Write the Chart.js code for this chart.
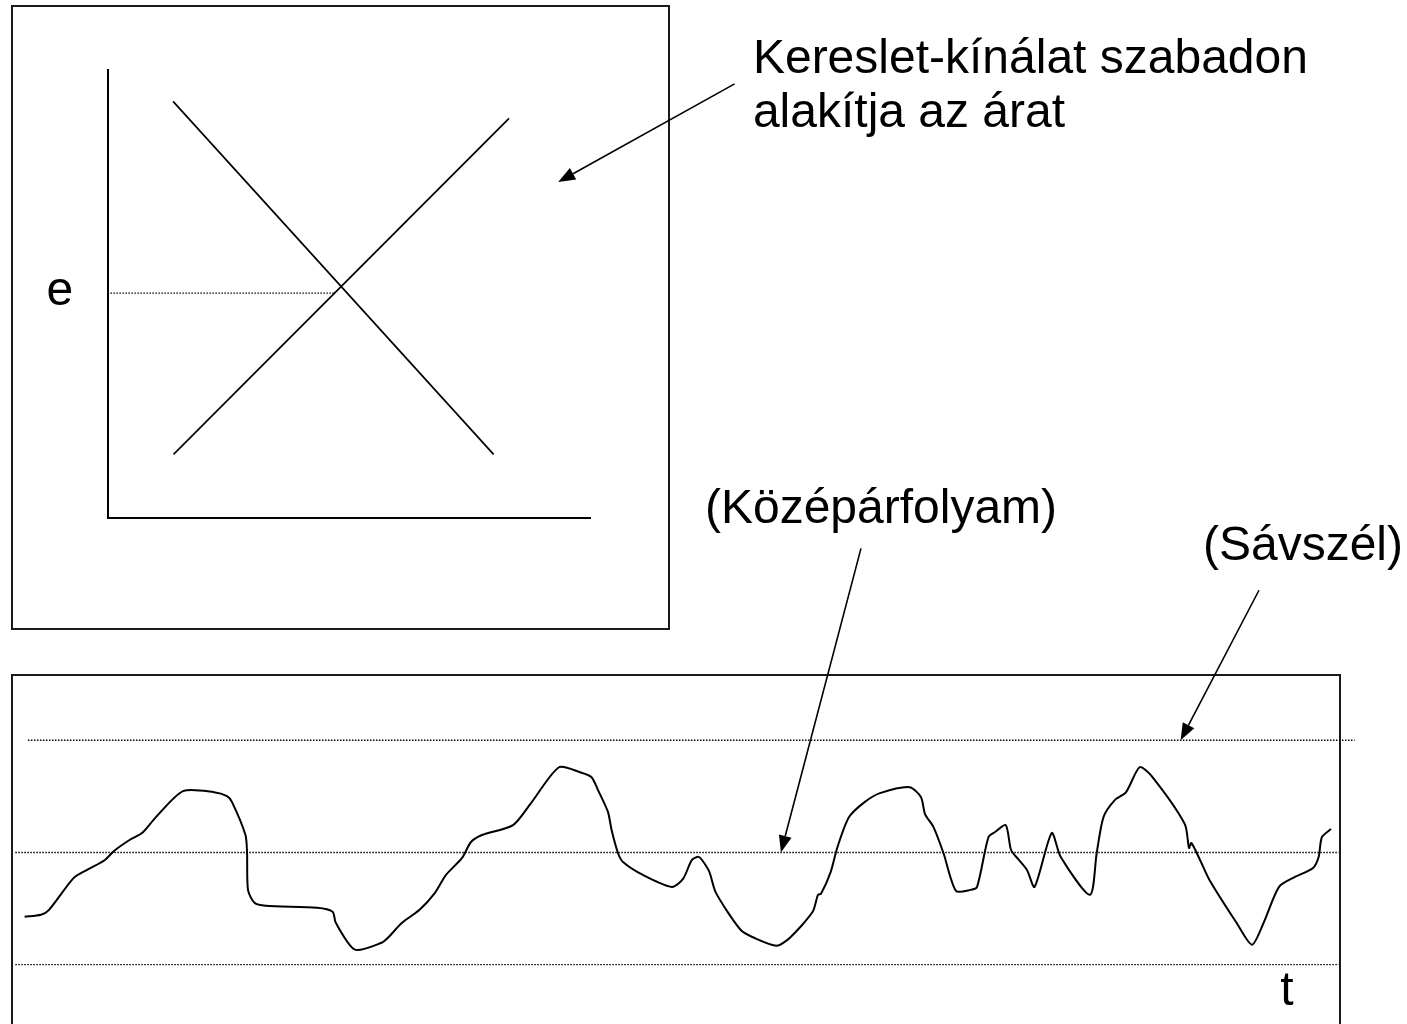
<!DOCTYPE html>
<html>
<head>
<meta charset="utf-8">
<script src="https://cdn.jsdelivr.net/npm/chart.js@4.4.1/dist/chart.umd.min.js"></script>
<style>
  html, body { margin: 0; padding: 0; background: #fff; }
  body { width: 1407px; height: 1024px; position: relative; overflow: hidden; }
  canvas { position: absolute; left: 0; }
  #marketChart { top: 0; }
  #rateChart { top: 460px; }
  .frame { position: absolute; border: 2px solid #1a1a1a; box-sizing: border-box; }
</style>
</head>
<body>
<div class="frame" style="left:11px;top:5px;width:659px;height:625px"></div>
<div class="frame" style="left:11px;top:674px;width:1330px;height:400px"></div>
<canvas id="marketChart" width="1407" height="640"></canvas>
<canvas id="rateChart" width="1407" height="564"></canvas>
<script>
// --- top panel: supply / demand (quantity 0..10, price 0..10)
const demandQ = [1.35, 8.0];
const demandP = [9.3, 1.42];
const supplyQ = [1.36, 8.32];
const supplyP = [1.42, 8.92];
const eqQ = [0.05, 4.7];
const eqPrice = 5.02;

// --- bottom panel: exchange rate deviation from central parity (%)
const days = [0.95, 2.18, 2.79, 4.65, 5.65, 7.0, 7.68, 8.85, 9.79, 10.84, 12.88, 15.21, 16.19, 16.57,
  17.58, 17.7, 17.77, 18.26, 19.1, 22.97, 24.14, 24.38, 25.83, 27.84, 28.31, 29.37, 30.69, 31.85,
  32.68, 33.89, 34.56, 35.39, 37.73, 39.08, 41.19, 42.77, 43.64, 44.13, 44.88, 45.15, 45.63, 46.01,
  47.51, 49.7, 50.53, 51.2, 51.73, 52.48, 53.01, 54.86, 55.87, 57.58, 58.58, 60.29, 60.69, 60.92,
  61.65, 62.16, 63.03, 64.2, 65.36, 67.59, 68.45, 68.75, 69.39, 70.14, 71.08, 72.18, 72.67, 73.53,
  74.02, 74.83, 75.23, 75.75, 76.43, 77.0, 78.29, 78.97, 81.17, 81.68, 82.19, 83.04, 83.89, 84.91,
  85.76, 88.31, 88.63, 88.81, 89.46, 90.17, 92.21, 93.37, 94.25, 95.41, 96.61, 97.97, 98.39, 98.64, 99.32];
const deviation = [-1.29, -1.25, -1.15, -0.51, -0.35, -0.15, 0.03, 0.25, 0.39, 0.71, 1.23, 1.21, 1.13, 1.01,
  0.35, -0.01, -0.75, -1.01, -1.07, -1.11, -1.19, -1.41, -1.95, -1.81, -1.71, -1.41, -1.15, -0.81,
  -0.45, -0.11, 0.21, 0.35, 0.55, 0.99, 1.71, 1.61, 1.51, 1.25, 0.81, 0.45, -0.01, -0.19,
  -0.45, -0.69, -0.53, -0.15, -0.09, -0.37, -0.81, -1.55, -1.71, -1.87, -1.71, -1.19, -0.85, -0.83,
  -0.39, 0.11, 0.71, 1.01, 1.19, 1.31, 1.11, 0.77, 0.51, -0.01, -0.77, -0.75, -0.69, 0.31,
  0.41, 0.55, 0.05, -0.13, -0.35, -0.69, 0.39, -0.09, -0.85, -0.01, 0.71, 1.05, 1.21, 1.71,
  1.55, 0.57, 0.09, 0.19, -0.15, -0.55, -1.41, -1.85, -1.41, -0.69, -0.49, -0.31, -0.09, 0.31, 0.47];
const centralParity = 0;
const bandEdge = 2.25;
const upperBandDays = [1.2, 101.1];
const otherBandDays = [0.25, 99.9];

const FONT = '48px "Liberation Sans", Arial, sans-serif';

// draws free text and arrows given in data units
const notesPlugin = {
    id: 'notes',
    afterDatasetsDraw(chart, args, opts) {
        const { ctx, scales: { x, y } } = chart;
        ctx.save();
        ctx.fillStyle = '#000';
        ctx.strokeStyle = '#000';
        ctx.font = FONT;
        ctx.textBaseline = 'alphabetic';
        (opts.labels || []).forEach(l => {
            ctx.textAlign = l.align || 'left';
            ctx.fillText(l.text, x.getPixelForValue(l.x), y.getPixelForValue(l.y));
        });
        (opts.arrows || []).forEach(a => {
            const x0 = x.getPixelForValue(a.from[0]), y0 = y.getPixelForValue(a.from[1]);
            const x1 = x.getPixelForValue(a.to[0]), y1 = y.getPixelForValue(a.to[1]);
            const ang = Math.atan2(y1 - y0, x1 - x0);
            const len = 17, half = 6.5;
            const bx = x1 - len * Math.cos(ang), by = y1 - len * Math.sin(ang);
            ctx.lineWidth = 1.6;
            ctx.beginPath();
            ctx.moveTo(x0, y0);
            ctx.lineTo(bx, by);
            ctx.stroke();
            ctx.beginPath();
            ctx.moveTo(x1, y1);
            ctx.lineTo(bx + half * Math.sin(ang), by - half * Math.cos(ang));
            ctx.lineTo(bx - half * Math.sin(ang), by + half * Math.cos(ang));
            ctx.closePath();
            ctx.fill();
        });
        ctx.restore();
    }
};

function pairs(xs, ys) {
    return xs.map((v, i) => ({ x: v, y: ys[i] }));
}

function hiddenAxis(min, max, withBorder) {
    return {
        type: 'linear',
        min: min,
        max: max,
        display: true,
        grid: { display: false, drawTicks: false },
        ticks: { display: false },
        border: { display: withBorder, color: '#000', width: 2 }
    };
}

const lineStyle = { borderColor: '#000', borderWidth: 1.7, pointRadius: 0, fill: false, clip: false };
const dotStyle = { borderColor: '#000', borderWidth: 1.4, borderDash: [1.5, 1.5], pointRadius: 0, fill: false, clip: false };

new Chart(document.getElementById('marketChart'), {
    type: 'line',
    data: {
        datasets: [
            { ...lineStyle, label: 'Kereslet', data: pairs(demandQ, demandP) },
            { ...lineStyle, label: 'Kínálat', data: pairs(supplyQ, supplyP) },
            { ...dotStyle, label: 'e', data: pairs(eqQ, eqQ.map(() => eqPrice)) }
        ]
    },
    options: {
        responsive: false,
        animation: false,
        events: [],
        layout: { padding: { left: 108, top: 70, right: 817, bottom: 122 } },
        scales: { x: hiddenAxis(0, 10, true), y: hiddenAxis(0, 10, true) },
        plugins: {
            legend: { display: false },
            tooltip: { enabled: false },
            notes: {
                labels: [
                    { text: 'e', x: -1.0, y: 4.75, align: 'center' },
                    { text: 'Kereslet-kínálat szabadon', x: 13.38, y: 9.93 },
                    { text: 'alakítja az árat', x: 13.38, y: 8.73 }
                ],
                arrows: [{ from: [13.0, 9.69], to: [9.34, 7.5] }]
            }
        }
    },
    plugins: [notesPlugin]
});

new Chart(document.getElementById('rateChart'), {
    type: 'line',
    data: {
        datasets: [
            { ...lineStyle, borderWidth: 2, label: 'Árfolyam', data: pairs(days, deviation), tension: 0.25 },
            { ...dotStyle, label: 'Felső sávszél', data: pairs(upperBandDays, [bandEdge, bandEdge]) },
            { ...dotStyle, label: 'Középárfolyam', data: pairs(otherBandDays, [centralParity, centralParity]) },
            { ...dotStyle, label: 'Alsó sávszél', data: pairs(otherBandDays, [-bandEdge, -bandEdge]) }
        ]
    },
    options: {
        responsive: false,
        animation: false,
        events: [],
        layout: { padding: { left: 12, top: 215, right: 67, bottom: 7 } },
        scales: { x: hiddenAxis(0, 100, false), y: hiddenAxis(-3.3, 3.56, false) },
        plugins: {
            legend: { display: false },
            tooltip: { enabled: false },
            notes: {
                labels: [
                    { text: '(Középárfolyam)', x: 52.18, y: 6.6 },
                    { text: '(Sávszél)', x: 89.68, y: 5.86 },
                    { text: 't', x: 96.0, y: -3.06, align: 'center' }
                ],
                arrows: [
                    { from: [63.93, 6.1], to: [57.9, centralParity] },
                    { from: [93.9, 5.26], to: [88.0, bandEdge] }
                ]
            }
        }
    },
    plugins: [notesPlugin]
});
</script>
</body>
</html>
